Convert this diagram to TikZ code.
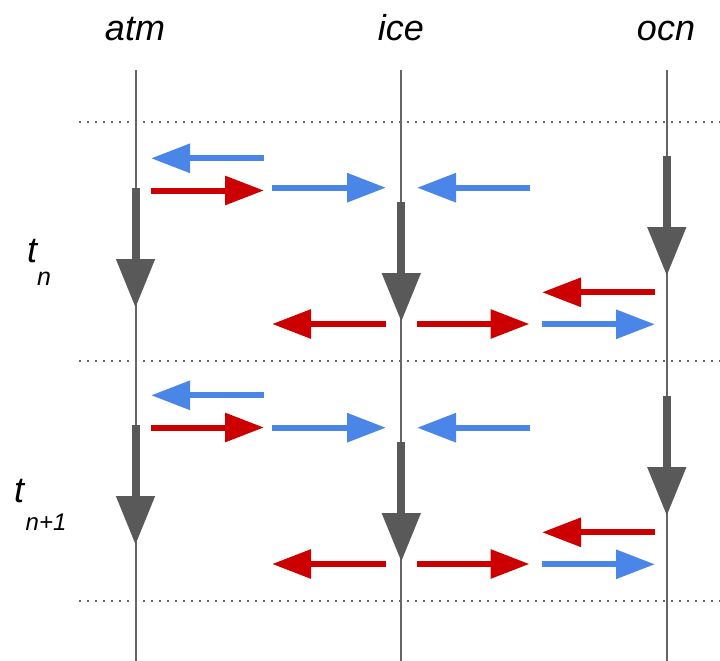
\documentclass[tikz,border=0pt]{standalone}
\usepackage{fontspec}
\setmainfont{Liberation Sans}
\usetikzlibrary{arrows.meta}
\definecolor{fluxblue}{HTML}{4A86E8}
\definecolor{fluxred}{HTML}{CC0000}
\definecolor{stepgray}{HTML}{595959}
\definecolor{axisgray}{HTML}{666666}
\begin{document}
\begin{tikzpicture}[x=1pt,y=-1pt,
  axis/.style={draw=axisgray, line width=2pt},
  sep/.style={draw=axisgray, line width=2pt, dash pattern=on 2pt off 6pt},
  flux/.style={line width=6pt, -{Triangle[length=39pt,width=28pt]}},
  bflux/.style={flux, draw=fluxblue},
  rflux/.style={flux, draw=fluxred},
  stepper/.style={draw=stepgray, line width=8pt, -{Triangle[length=49pt,width=37pt]}},
  comp/.style={font=\fontsize{36}{36}\selectfont\itshape, anchor=base, inner sep=0pt},
  tlabel/.style={font=\fontsize{36}{36}\selectfont\itshape, anchor=base west, inner sep=0pt}]
  \useasboundingbox (0,0) rectangle (720,661);

  % component headings
  \node[comp] (atm) at (135,41) {atm};
  \node[comp] (ice) at (401,41) {ice};
  \node[comp] (ocn) at (666,41) {ocn};

  % time step labels
  \node[tlabel] (tn) at (27,262) {t\raisebox{-23pt}{\fontsize{25}{25}\selectfont n}};
  \node[tlabel] (tn1) at (14,502) {t\kern1.5pt\raisebox{-28pt}{\fontsize{24}{24}\selectfont n+1}};

  % component time lines
  \foreach \name/\x in {atm/135.5, ice/401.3, ocn/666.8} {
    \coordinate (\name-top) at (\x,70);
    \coordinate (\name-bot) at (\x,661);
    \draw[axis] (\name-top) -- (\name-bot);
  }

  % step boundaries
  \foreach \k/\y in {0/121.5, 1/361.3, 2/601.3} {
    \coordinate (sep\k-l) at (79.3,\y);
    \coordinate (sep\k-r) at (720,\y);
    \draw[sep] (sep\k-l) -- (sep\k-r);
  }

  % one coupled time step, repeated with a vertical offset
  \foreach \b/\d/\a in {u/0/0, l/240/237} {
    % component integrations
    \coordinate (atm-s-\b) at (135.5,188+\a);
    \coordinate (atm-e-\b) at (135.5,308+\a);
    \coordinate (ice-s-\b) at (401.3,202+\d);
    \coordinate (ice-e-\b) at (401.3,322+\d);
    \coordinate (ocn-s-\b) at (666.8,156+\d);
    \coordinate (ocn-e-\b) at (666.8,276+\d);
    \draw[stepper] (atm-s-\b) -- (atm-e-\b);
    \draw[stepper] (ice-s-\b) -- (ice-e-\b);
    \draw[stepper] (ocn-s-\b) -- (ocn-e-\b);

    % atmosphere <-> coupler exchanges
    \coordinate (a1-\b) at (264,158.3+\a);
    \coordinate (a2-\b) at (151,158.3+\a);
    \coordinate (a3-\b) at (151,190.5+\a);
    \coordinate (a4-\b) at (264,190.5+\a);
    \draw[bflux] (a1-\b) -- (a2-\b);
    \draw[rflux] (a3-\b) -- (a4-\b);

    % coupler <-> ice exchanges
    \coordinate (i1-\b) at (272,187.7+\d);
    \coordinate (i2-\b) at (386,187.7+\d);
    \coordinate (i3-\b) at (530,187.7+\d);
    \coordinate (i4-\b) at (417,187.7+\d);
    \draw[bflux] (i1-\b) -- (i2-\b);
    \draw[bflux] (i3-\b) -- (i4-\b);

    \coordinate (i5-\b) at (386,324+\d);
    \coordinate (i6-\b) at (272,324+\d);
    \coordinate (i7-\b) at (417,324+\d);
    \coordinate (i8-\b) at (529.5,324+\d);
    \draw[rflux] (i5-\b) -- (i6-\b);
    \draw[rflux] (i7-\b) -- (i8-\b);

    % coupler <-> ocean exchanges
    \coordinate (o1-\b) at (655,292.3+\d);
    \coordinate (o2-\b) at (542,292.3+\d);
    \coordinate (o3-\b) at (542,324.3+\d);
    \coordinate (o4-\b) at (655,324.3+\d);
    \draw[rflux] (o1-\b) -- (o2-\b);
    \draw[bflux] (o3-\b) -- (o4-\b);
  }
\end{tikzpicture}
\end{document}
